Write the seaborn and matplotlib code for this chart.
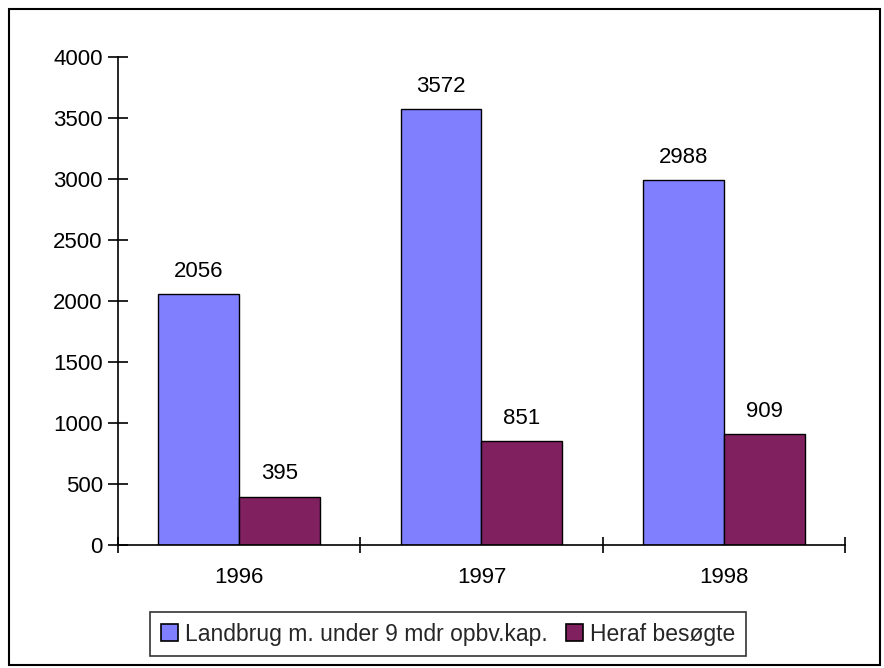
import matplotlib
matplotlib.use("Agg")
import matplotlib.pyplot as plt
import seaborn as sns
import pandas as pd
from matplotlib.patches import Rectangle

years = ["1996", "1997", "1998"]
series_names = ["Landbrug m. under 9 mdr opbv.kap.", "Heraf besøgte"]
landbrug = [2056, 3572, 2988]
besoegte = [395, 851, 909]
colors = ["#8080ff", "#80205f"]

df = pd.DataFrame({
    "year": years * 2,
    "series": [series_names[0]] * 3 + [series_names[1]] * 3,
    "value": landbrug + besoegte,
})

sns.set_theme(style="white")
plt.rcParams["font.family"] = ["Liberation Sans", "DejaVu Sans"]
plt.rcParams["font.size"] = 16

fig = plt.figure(figsize=(8.84, 6.68), dpi=100)
ax = fig.add_axes([118 / 884, 1 - 545 / 668, (845 - 118) / 884, (545 - 57) / 668])

sns.barplot(data=df, x="year", y="value", hue="series", hue_order=series_names,
            palette=colors, width=0.667, gap=0, edgecolor="black", linewidth=1,
            saturation=1, ax=ax, legend=True)

# value labels above the bars
for cont in ax.containers:
    ax.bar_label(cont, fmt="%d", padding=9, fontsize=16, color="black")

ax.set_xlim(-0.5, 2.5)
ax.set_ylim(0, 4000)
ax.set_yticks(range(0, 4001, 500))
ax.set_xlabel("")
ax.set_ylabel("")

for s in ["top", "right"]:
    ax.spines[s].set_visible(False)
for s in ["left", "bottom"]:
    ax.spines[s].set_color("black")
    ax.spines[s].set_linewidth(1.2)

ax.tick_params(axis="y", which="major", direction="inout", length=14, width=1.2,
               color="black", left=True, labelsize=16, labelcolor="black", pad=4)
ax.tick_params(axis="x", which="major", length=0, labelsize=16,
               labelcolor="black", pad=16)
ax.set_xticks([-0.5, 0.5, 1.5, 2.5], minor=True)
ax.tick_params(axis="x", which="minor", direction="inout", length=12, width=1.2,
               color="black", bottom=True)

handles, labels = ax.get_legend_handles_labels()
ax.get_legend().remove()
leg = fig.legend(handles, labels, loc="center", bbox_to_anchor=(448 / 884, 1 - 634 / 668),
                 ncol=2, frameon=True, fancybox=False, fontsize=16.5,
                 handlelength=0.75, handleheight=0.75, handletextpad=0.3,
                 columnspacing=0.8, borderpad=0.45, borderaxespad=0)
leg.get_frame().set_edgecolor("black")
leg.get_frame().set_linewidth(1.2)
for h in leg.legend_handles:
    h.set_edgecolor("black")
    h.set_linewidth(1.2)

# outer chart border
fig.add_artist(Rectangle((9 / 884, 3 / 668), (880 - 9) / 884, (665 - 9) / 668,
                         transform=fig.transFigure, fill=False,
                         edgecolor="black", linewidth=1.5))

fig.savefig("out.png", dpi=100)
